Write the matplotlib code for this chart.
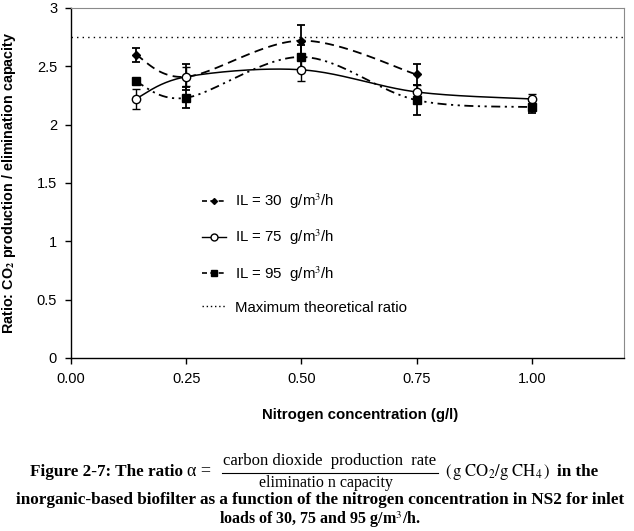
import matplotlib
matplotlib.use('Agg')
import matplotlib.pyplot as plt
import numpy as np
from matplotlib.lines import Line2D

# nitrogen concentration (g/l)
x_30 = [0.14, 0.25, 0.50, 0.75]
x_75 = [0.14, 0.25, 0.50, 0.75, 1.00]
x_95 = [0.14, 0.25, 0.50, 0.75, 1.00]

# ratio CO2 production / elimination capacity
y_30 = [2.60, 2.41, 2.72, 2.43]
y_75 = [2.22, 2.41, 2.47, 2.28, 2.22]
y_95 = [2.37, 2.23, 2.58, 2.21, 2.15]

err_30 = [0.06, 0.11, 0.13, 0.09]
err_75 = [0.085, 0.08, 0.10, 0.06, 0.04]
err_95 = [0.0, 0.09, 0.10, 0.13, 0.05]

max_ratio = 2.75

x_ticks = [0.0, 0.25, 0.5, 0.75, 1.0]
y_ticks = [0, 0.5, 1, 1.5, 2, 2.5, 3]

plt.rcParams['font.family'] = ['Liberation Sans', 'DejaVu Sans']
plt.rcParams['mathtext.fontset'] = 'stix'


def smooth(xs, ys, n=40):
    # Excel-like smoothed line: cubic bezier between the points
    p = np.column_stack([xs, ys]).astype(float)
    out = [p[0]]
    for i in range(len(p) - 1):
        p0 = p[i - 1] if i > 0 else p[i]
        p3 = p[i + 2] if i + 2 < len(p) else p[i + 1]
        c1 = p[i] + (p[i + 1] - p0) / 6
        c2 = p[i + 1] - (p3 - p[i]) / 6
        t = np.linspace(0, 1, n)[1:, None]
        seg = ((1 - t) ** 3) * p[i] + 3 * ((1 - t) ** 2) * t * c1 + 3 * (1 - t) * t ** 2 * c2 + t ** 3 * p[i + 1]
        out.extend(seg)
    out = np.array(out)
    return out[:, 0], out[:, 1]


fig = plt.figure(figsize=(6.34, 5.31), dpi=100)
ax = fig.add_axes([0.112, 0.326, 0.872, 0.659])

ls_30 = (0, (5, 3))
ls_95 = (0, (5, 2.5, 1.2, 2.5, 1.2, 2.5))

sx, sy = smooth(x_30, y_30)
ax.plot(sx, sy, color='black', lw=1.3, linestyle=ls_30)
sx, sy = smooth(x_75, y_75)
ax.plot(sx, sy, color='black', lw=1.1)
sx, sy = smooth(x_95, y_95)
ax.plot(sx, sy, color='black', lw=1.3, linestyle=ls_95)

ax.errorbar(x_30, y_30, yerr=err_30, fmt='D', ms=4, color='black', mfc='black',
            ecolor='black', elinewidth=1.3, capsize=3, capthick=1.3)
ax.errorbar(x_75, y_75, yerr=err_75, fmt='o', ms=6, color='black', mfc='white',
            ecolor='black', elinewidth=1.0, capsize=3, capthick=1.0)
ax.errorbar(x_95, y_95, yerr=err_95, fmt='s', ms=6, color='black', mfc='black',
            ecolor='black', elinewidth=1.3, capsize=3, capthick=1.3)

ax.axhline(max_ratio, color='black', lw=1.0, linestyle=(0, (1, 3)))

ax.set_xlim(0, 1.2)
ax.set_ylim(0, 3)
ax.set_xticks(x_ticks)
ax.set_xticklabels([f"{v:.2f}" for v in x_ticks])
ax.set_yticks(y_ticks)
ax.set_yticklabels([f"{v:g}" for v in y_ticks])
ax.tick_params(direction='out', length=4, width=1, labelsize=10.5, pad=6)

for side in ['top', 'right']:
    ax.spines[side].set_color('#8a8a8a')
    ax.spines[side].set_linewidth(0.8)
for side in ['left', 'bottom']:
    ax.spines[side].set_color('black')
    ax.spines[side].set_linewidth(1.0)

ax.set_ylabel('Ratio: CO$_\\mathbf{2}$ production / elimination capacity', fontsize=10.4,
              fontweight='bold')
ax.yaxis.set_label_coords(-0.095, 0.5)
fig.text(360 / 634, 1 - 415 / 531, 'Nitrogen concentration (g/l)', fontsize=10.8,
         fontweight='bold', ha='center', va='center')

handles = [
    Line2D([], [], color='black', lw=1.2, linestyle=(0, (3, 2)), marker='D', ms=3),
    Line2D([], [], color='black', lw=1.0, marker='o', ms=5, mfc='white'),
    Line2D([], [], color='black', lw=1.2, linestyle=(0, (3, 2)), marker='s', ms=5),
    Line2D([], [], color='black', lw=1.0, linestyle=(0, (1, 2))),
]
labels = ['IL = 30  g/m$^3$/h', 'IL = 75  g/m$^3$/h', 'IL = 95  g/m$^3$/h',
          'Maximum theoretical ratio']
ax.legend(handles, labels, loc='center left', bbox_to_anchor=(0.237, 0.30),
          frameon=False, fontsize=10.8, handlelength=1.6, handletextpad=0.6,
          labelspacing=1.12, borderpad=0, borderaxespad=0)

# caption
serif = 'Liberation Serif'
cap_y = 1 - 472 / 531
fig.text(30 / 634, cap_y, 'Figure 2-7: The ratio', family=serif,
         fontweight='bold', fontsize=12.3, ha='left', va='center')
fig.text(187 / 634, cap_y, 'α =', family=serif, fontsize=13, ha='left', va='center')
fig.text(330 / 634, 1 - 461 / 531, 'carbon dioxide  production  rate', family=serif,
         fontsize=12, ha='center', va='center')
fig.text(326 / 634, 1 - 483 / 531, 'eliminatio n capacity', family=serif,
         fontsize=11.5, ha='center', va='center')
fig.add_artist(Line2D([222 / 634, 438 / 634], [1 - 473 / 531, 1 - 473 / 531],
                      color='black', lw=0.8))
fig.text(445 / 634, cap_y, r'$(\,\mathrm{g\ CO_2/g\ CH_4}\,)$', fontsize=12,
         ha='left', va='center')
fig.text(557 / 634, cap_y, 'in the', family=serif,
         fontweight='bold', fontsize=12.3, ha='left', va='center')
fig.text(320 / 634, 1 - 500 / 531,
         'inorganic-based biofilter as a function of the nitrogen concentration in NS2 for inlet',
         family=serif, fontweight='bold', fontsize=12.3, ha='center', va='center')
fig.text(320 / 634, 1 - 520 / 531, 'loads of 30, 75 and 95 g/m$^3$/h.',
         family=serif, fontweight='bold', fontsize=11.5, ha='center', va='center')

fig.savefig('out.png', dpi=100)
plt.close(fig)
